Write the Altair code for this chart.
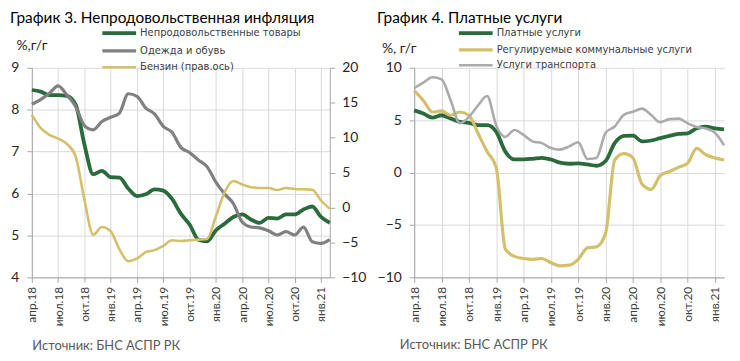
import altair as alt
import pandas as pd

# ---------- data ----------
quarter_labels = ["апр.18", "июл.18", "окт.18", "янв.19", "апр.19", "июл.19",
                  "окт.19", "янв.20", "апр.20", "июл.20", "окт.20", "янв.21"]
months = list(range(35))  # apr.18 ... feb.21

# Chart 3 (left)
nonfood = [8.47, 8.43, 8.35, 8.35, 8.33, 8.12, 7.17, 6.46, 6.54, 6.39, 6.38, 6.12,
           5.94, 5.98, 6.10, 6.07, 5.87, 5.52, 5.26, 4.90, 4.86, 5.12, 5.28, 5.44,
           5.50, 5.38, 5.30, 5.42, 5.40, 5.50, 5.50, 5.62, 5.69, 5.44, 5.30]
clothing = [8.13, 8.24, 8.39, 8.57, 8.35, 8.08, 7.62, 7.52, 7.72, 7.82, 7.92, 8.38,
            8.32, 8.04, 7.90, 7.60, 7.46, 7.10, 6.98, 6.80, 6.64, 6.27, 5.99, 5.76,
            5.32, 5.20, 5.18, 5.11, 5.01, 5.09, 5.01, 5.20, 4.85, 4.81, 4.90]
petrol = [13.3, 11.4, 10.4, 9.86, 9.1, 7.3, 1.1, -3.9, -2.8, -3.4, -6.0, -7.7,
          -7.3, -6.4, -6.1, -5.5, -4.7, -4.8, -4.7, -4.6, -4.5, -1.3, 2.2, 3.8,
          3.3, 2.9, 2.8, 2.8, 2.5, 2.8, 2.65, 2.6, 2.55, 1.0, -0.2]

# Chart 4 (right)
paid = [5.94, 5.63, 5.25, 5.47, 5.16, 4.84, 4.75, 4.53, 4.53, 3.9, 2.0, 1.25,
        1.25, 1.31, 1.41, 1.25, 0.94, 0.84, 0.88, 0.78, 0.65, 1.1, 2.8, 3.5,
        3.53, 2.97, 3.06, 3.28, 3.50, 3.69, 3.75, 4.22, 4.38, 4.22, 4.13]
utilities = [7.81, 6.88, 5.78, 5.88, 5.47, 5.78, 5.47, 3.75, 2.0, 0.5, -7.3, -8.0,
             -8.2, -8.28, -8.2, -8.6, -8.9, -8.84, -8.28, -7.19, -7.09, -5.8, 1.2, 1.8,
             1.4, -1.1, -1.6, -0.3, 0.1, 0.5, 0.9, 2.3, 1.7, 1.4, 1.2]
transport = [8.06, 8.59, 9.1, 8.9, 6.9, 4.7, 5.3, 6.4, 7.3, 4.5, 3.4, 4.06,
             3.6, 2.97, 2.81, 2.34, 2.19, 2.5, 2.9, 1.3, 1.4, 3.8, 4.4, 5.5,
             5.8, 6.1, 5.5, 4.8, 5.1, 5.15, 4.7, 4.35, 4.2, 3.8, 2.6]

S1, S2, S3 = "Непродовольственные товары", "Одежда и обувь", "Бензин (прав.ось)"
R1, R2, R3 = "Платные услуги", "Регулируемые коммунальные услуги", "Услуги транспорта"

GREEN, GRAY, KHAKI, LGRAY = "#2a6b3c", "#808080", "#d4c06a", "#ababab"
GRID, AXIS = "#d9d9d9", "#a6a6a6"


def long(series):
    rows = []
    for name, vals in series:
        for m, v in zip(months, vals):
            rows.append({"m": m, "v": v, "s": name})
    return pd.DataFrame(rows)


df_l_left = long([(S1, nonfood), (S2, clothing)])
df_l_right = long([(S3, petrol)])
df_r = long([(R1, paid), (R2, utilities), (R3, transport)])

label_expr = "[" + ",".join(f"'{l}'" for l in quarter_labels) + "][round(datum.value/3)]"
FONT = "Lato"


def x_enc(title_x, title_y):
    return alt.X(
        "m:Q",
        scale=alt.Scale(domain=[0, 34], nice=False, zero=False),
        axis=alt.Axis(
            values=list(range(0, 34, 3)), labelExpr=label_expr, labelAngle=-90,
            grid=True, gridColor=GRID, domainColor=AXIS, tickColor=AXIS, tickSize=5,
            labelFont=FONT, labelFontSize=12, labelColor="#404040", labelPadding=4,
            title="Источник: БНС АСПР РК", titleFont=FONT, titleFontSize=13,
            titleFontWeight="normal", titleColor="#595959", titleAngle=0,
            titleAlign="left", titleBaseline="alphabetic", titleAnchor="start",
            titleX=title_x, titleY=title_y,
        ),
    )


# wide, flat stroke symbol: drawn 34px long at symbolSize=100 (radius 5)
LINE_SYMBOL = "M-3.4,0H3.4"


def legend(lx, ly, pad):
    return alt.Legend(
        orient="none", legendX=lx, legendY=ly, title=None, symbolType=LINE_SYMBOL,
        symbolSize=100, symbolStrokeWidth=3, labelFont="DejaVu Sans",
        labelFontSize=10, labelColor="#404040", labelOffset=14, rowPadding=pad,
        labelLimit=0,
    )


# ---------- left chart ----------
color_l = alt.Color("s:N", scale=alt.Scale(domain=[S1, S2, S3], range=[GREEN, GRAY, KHAKI]),
                    legend=legend(81, -42, 3))
sw_l = alt.StrokeWidth("s:N", scale=alt.Scale(domain=[S1, S2, S3], range=[3.8, 2.6, 2.6]),
                       legend=None)

left_a = alt.Chart(df_l_left).mark_line(interpolate="monotone").encode(
    x=x_enc(0, 73),
    y=alt.Y("v:Q", scale=alt.Scale(domain=[4, 9], nice=False, zero=False),
            axis=alt.Axis(values=[4, 5, 6, 7, 8, 9], grid=True, gridColor=GRID,
                          domainColor=AXIS, tickColor=AXIS, tickSize=5,
                          labelFont=FONT, labelFontSize=14, labelColor="#262626",
                          labelPadding=8, minExtent=22, maxExtent=22,
                          title="%,г/г", titleAngle=0, titleX=-16, titleY=-18,
                          titleAlign="left", titleBaseline="alphabetic",
                          titleFont=FONT, titleFontSize=14, titleFontWeight="normal",
                          titleColor="#262626")),
    color=color_l, strokeWidth=sw_l, order=alt.Order("s:N", sort="descending"),
)
left_b = alt.Chart(df_l_right).mark_line(interpolate="monotone").encode(
    x=x_enc(0, 73),
    y=alt.Y("v:Q", scale=alt.Scale(domain=[-10, 20], nice=False, zero=False),
            axis=alt.Axis(orient="right", values=[-10, -5, 0, 5, 10, 15, 20], grid=False,
                          domainColor=AXIS, tickColor=AXIS, tickSize=5,
                          labelFont=FONT, labelFontSize=14, labelColor="#262626",
                          labelPadding=7, title=None)),
    color=color_l, strokeWidth=sw_l,
)
left = alt.layer(left_a, left_b).resolve_scale(y="independent").properties(
    width=300, height=211,
    title=alt.TitleParams("График 3. Непродовольственная инфляция", anchor="start",
                          font=FONT, fontSize=15.5, fontWeight="normal", color="#000000",
                          offset=0),
)

# ---------- right chart ----------
color_r = alt.Color("s:N", scale=alt.Scale(domain=[R1, R2, R3], range=[GREEN, KHAKI, LGRAY]),
                    legend=legend(55, -42, 2))
sw_r = alt.StrokeWidth("s:N", scale=alt.Scale(domain=[R1, R2, R3], range=[3.8, 2.6, 2.6]),
                       legend=None)
right = alt.Chart(df_r).mark_line(interpolate="monotone").encode(
    x=x_enc(-15, 72),
    y=alt.Y("v:Q", scale=alt.Scale(domain=[-10, 10], nice=False, zero=False),
            axis=alt.Axis(values=[-10, -5, 0, 5, 10], grid=True, gridColor=GRID,
                          domainColor=AXIS, tickColor=AXIS, tickSize=5,
                          labelFont=FONT, labelFontSize=14, labelColor="#262626",
                          labelPadding=8, minExtent=33, maxExtent=33,
                          title="%, г/г", titleAngle=0, titleX=-33, titleY=-15,
                          titleAlign="left", titleBaseline="alphabetic",
                          titleFont=FONT, titleFontSize=14, titleFontWeight="normal",
                          titleColor="#262626")),
    color=color_r, strokeWidth=sw_r,
).properties(
    width=312, height=211,
    title=alt.TitleParams("График 4. Платные услуги", anchor="start",
                          font=FONT, fontSize=15.5, fontWeight="normal", color="#000000",
                          offset=0),
)

chart = alt.hconcat(left, right, spacing=85, bounds="flush").resolve_scale(
    color="independent", strokeWidth="independent"
).properties(
    padding={"left": 2, "top": 1, "right": 0, "bottom": 0}
).configure_view(stroke=None)

chart.save("out.html", embed_options={"renderer": "svg", "actions": False})
